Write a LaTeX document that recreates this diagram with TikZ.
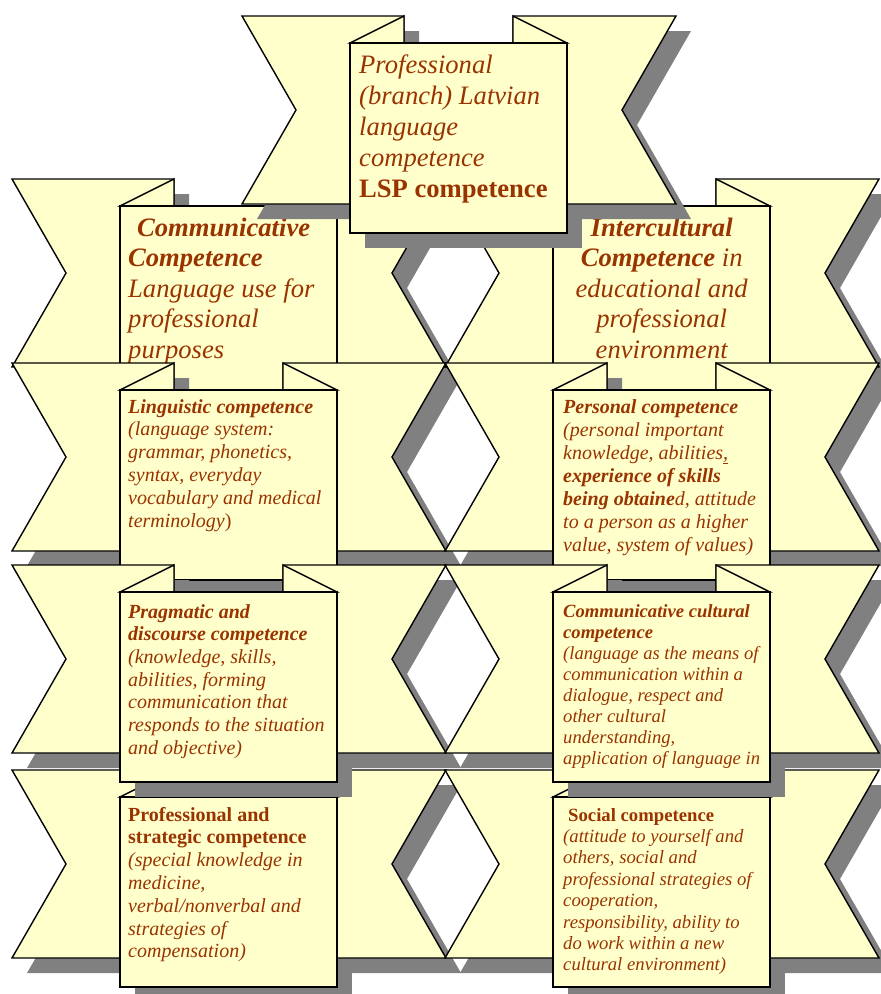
\documentclass[tikz,border=0pt]{standalone}
\usepackage{fontspec}
\setmainfont{Liberation Serif}
\definecolor{ribbonyellow}{HTML}{FFFFCC}
\definecolor{inkbrown}{HTML}{993300}
\definecolor{shadowgray}{HTML}{808080}

\tikzset{
  ribbonpart/.style={fill=ribbonyellow, draw=black, line width=1.4pt, line join=miter},
  ribbonshadow/.style={fill=shadowgray},
  ribbontext/.style={anchor=base west, inner sep=0pt, text=inkbrown},
}

% A ribbon: two notched tails with folds and a front panel, plus a drop shadow.
% #1,#2 = upper left corner of the left tail.
\newcommand\ribbonbanner[2]{%
  \begin{scope}[shift={(#1+15,#2+15)}]
    \fill[ribbonshadow] (0,0) -- (162,0) -- (162,188) -- (0,188) -- (54,94) -- cycle;
    \fill[ribbonshadow] (271,0) -- (434,0) -- (380,94) -- (434,188) -- (271,188) -- cycle;
    \fill[ribbonshadow] (108,27) rectangle (325,217);
  \end{scope}
  \begin{scope}[shift={(#1,#2)}]
    \filldraw[ribbonpart] (0,0) -- (162,0) -- (162,188) -- (0,188) -- (54,94) -- cycle;
    \filldraw[ribbonpart] (271,0) -- (434,0) -- (380,94) -- (434,188) -- (271,188) -- cycle;
    \filldraw[ribbonpart] (108,27) -- (162,0) -- (162,27) -- cycle;
    \filldraw[ribbonpart] (325,27) -- (271,0) -- (271,27) -- cycle;
    \filldraw[ribbonpart] (108,27) rectangle (325,217);
  \end{scope}}

\begin{document}
\begin{tikzpicture}[x=1pt, y=-1pt]
\useasboundingbox (0,0) rectangle (881,994);
\clip (0,0) rectangle (881,994);

% second row
\ribbonbanner{12}{179}
\node[ribbontext] (comm) at (128,236) {\parbox[t]{240pt}{\raggedright
  \fontsize{26.6}{30.5}\selectfont\itshape
  {\bfseries\hspace*{9pt}Communicative\\Competence}\\
  Language use for\\professional\\purposes}};

\ribbonbanner{445}{179}
\node[ribbontext] (inter) at (553,236) {\parbox[t]{217pt}{\centering
  \fontsize{26.6}{30.5}\selectfont\itshape
  {\bfseries Intercultural\\Competence} in\\educational and\\professional\\environment}};

% third row
\ribbonbanner{12}{363}
\node[ribbontext] (ling) at (128,413) {\parbox[t]{240pt}{\raggedright
  \fontsize{20}{22.8}\selectfont\itshape
  {\bfseries Linguistic competence}\\
  (language system:\\grammar, phonetics,\\syntax, everyday\\vocabulary and medical\\terminology{\upshape)}}};

\ribbonbanner{445}{363}
\node[ribbontext] (pers) at (563,413) {\parbox[t]{240pt}{\raggedright
  \fontsize{20}{23}\selectfont\itshape
  {\bfseries Personal competence}\\
  (personal important\\knowledge, abilities\underline{,}\\
  {\bfseries experience of skills\\being obtaine}d, attitude\\
  to a person as a higher\\value, system of values)}};

% fifth row
\ribbonbanner{12}{770}
\node[ribbontext] (prof) at (128,821) {\parbox[t]{240pt}{\raggedright
  \fontsize{20}{22.8}\selectfont\itshape
  {\upshape\bfseries Professional and\\strategic competence}\\
  (special knowledge in\\medicine,\\verbal/nonverbal and\\strategies of\\compensation)}};

\ribbonbanner{445}{770}
\node[ribbontext] (soc) at (563,821) {\parbox[t]{240pt}{\raggedright
  \fontsize{18.7}{21.4}\selectfont\itshape
  {\upshape\bfseries\hspace*{5pt}Social competence}\\
  (attitude to yourself and\\others, social and\\professional strategies of\\
  cooperation,\\responsibility, ability to\\do work within a new\\cultural environment)}};

% fourth row
\ribbonbanner{12}{565}
\node[ribbontext] (prag) at (128,618) {\parbox[t]{240pt}{\raggedright
  \fontsize{20}{22.7}\selectfont\itshape
  {\bfseries Pragmatic and\\discourse competence}\\
  (knowledge, skills,\\abilities, forming\\communication that\\responds to the situation\\and objective)}};

\ribbonbanner{445}{565}
\node[ribbontext] (cult) at (563,617) {\parbox[t]{240pt}{\raggedright
  \fontsize{18.6}{21.1}\selectfont\itshape
  {\bfseries Communicative cultural\\competence}\\
  (language as the means of\\communication within a\\dialogue, respect and\\
  other cultural\\understanding,\\application of language in}};

% top ribbon
\ribbonbanner{242}{16}
\node[ribbontext] (lsp) at (359,73) {\parbox[t]{240pt}{\raggedright
  \fontsize{26.6}{31}\selectfont
  {\itshape Professional\\(branch) Latvian\\language\\competence}\\
  {\bfseries LSP competence}}};
\end{tikzpicture}
\end{document}
